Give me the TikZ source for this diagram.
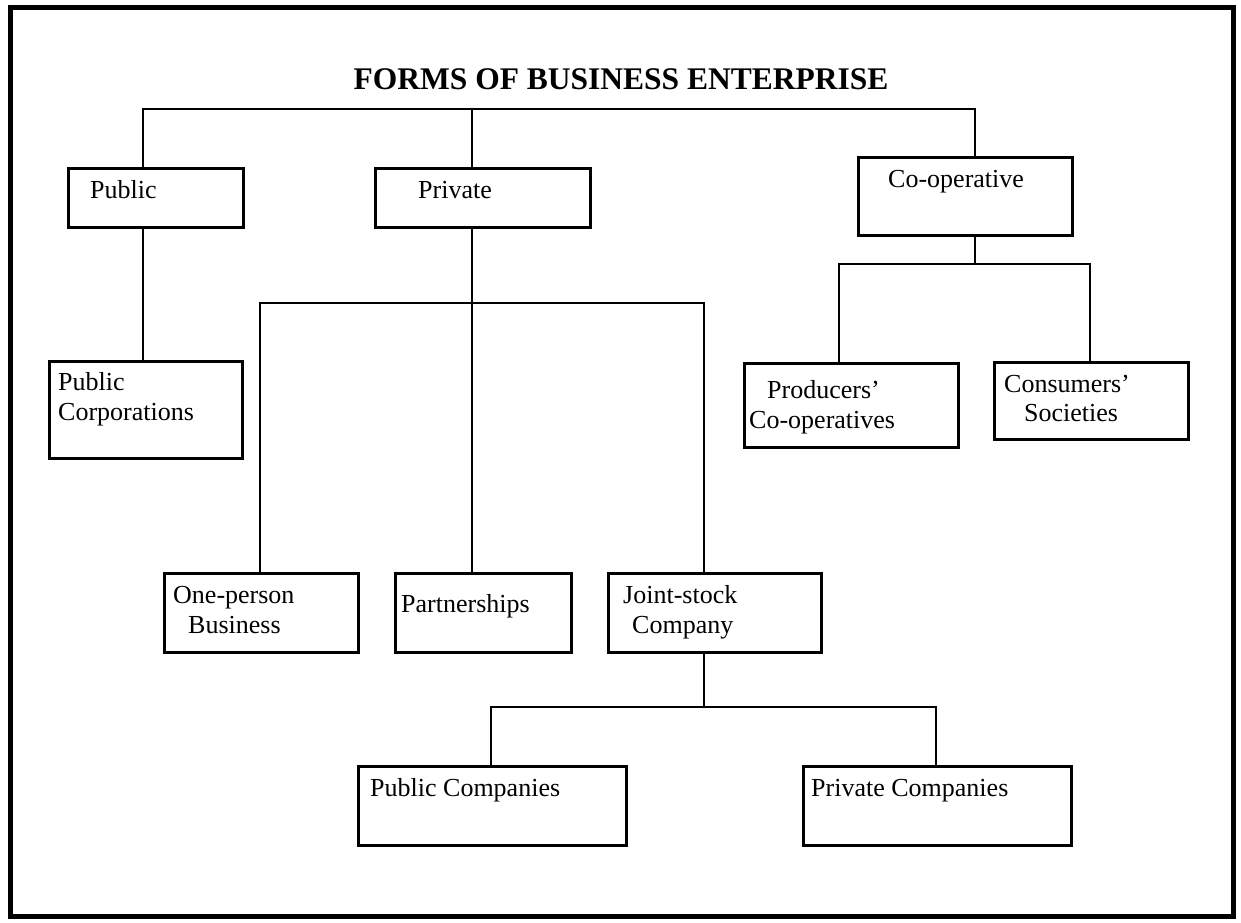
\documentclass[tikz,border=0pt]{standalone}
\usepackage{fontspec}
\setmainfont{Liberation Serif}
\usetikzlibrary{calc}
\begin{document}
\begin{tikzpicture}[x=1pt,y=-1pt,
  box/.style={draw, line width=3pt, rectangle, inner sep=0pt, anchor=north west},
  conn/.style={line width=2.4pt},
  lbl/.style={anchor=base west, inner sep=0pt, font=\fontsize{26}{30}\selectfont},
  ttl/.style={anchor=base, inner sep=0pt, font=\fontsize{31.5}{35}\selectfont\bfseries}]
\useasboundingbox (0,0) rectangle (1241,922);
\draw[line width=5pt] (10,7) rectangle (1233,916);
\node[ttl] (title) at (621,89) {FORMS OF BUSINESS ENTERPRISE};
% boxes
\node[box, minimum width=175pt, minimum height=59pt] (public) at (67,167) {};
\node[box, minimum width=215pt, minimum height=59pt] (private) at (374,167) {};
\node[box, minimum width=214pt, minimum height=78pt] (coop) at (857,156) {};
\node[box, minimum width=193pt, minimum height=97pt] (pubcorp) at (48,360) {};
\node[box, minimum width=214pt, minimum height=84pt] (prod) at (743,362) {};
\node[box, minimum width=194pt, minimum height=77pt] (cons) at (993,361) {};
\node[box, minimum width=194pt, minimum height=79pt] (onep) at (163,572) {};
\node[box, minimum width=176pt, minimum height=79pt] (partn) at (394,572) {};
\node[box, minimum width=213pt, minimum height=79pt] (joint) at (607,572) {};
\node[box, minimum width=268pt, minimum height=79pt] (pubco) at (357,765) {};
\node[box, minimum width=268pt, minimum height=79pt] (privco) at (802,765) {};
% texts
\node[lbl] (public-t) at (90,198) {Public};
\node[lbl] (private-t) at (418,198) {Private};
\node[lbl] (coop-t) at (888,187) {Co-operative};
\node[lbl] (pubcorp-t1) at (58,390) {Public};
\node[lbl] (pubcorp-t2) at (58,420) {Corporations};
\node[lbl] (prod-t1) at (767,398) {Producers’};
\node[lbl] (prod-t2) at (749,428) {Co-operatives};
\node[lbl] (cons-t1) at (1004,392) {Consumers’};
\node[lbl] (cons-t2) at (1024,421) {Societies};
\node[lbl] (onep-t1) at (173,603) {One-person};
\node[lbl] (onep-t2) at (188,633) {Business};
\node[lbl] (partn-t) at (401,612) {Partnerships};
\node[lbl] (joint-t1) at (623,603) {Joint-stock};
\node[lbl] (joint-t2) at (632,633) {Company};
\node[lbl] (pubco-t) at (370,796) {Public Companies};
\node[lbl] (privco-t) at (811,796) {Private Companies};
% junction coordinates
\coordinate (tl) at (143,109);
\coordinate (tm) at (472,109);
\coordinate (tr) at (975,109);
\coordinate (pl) at (260,303);
\coordinate (pm) at (472,303);
\coordinate (pr) at (704,303);
\coordinate (cl) at (839,264);
\coordinate (cm) at (975,264);
\coordinate (cr) at (1090,264);
\coordinate (jl) at (491,707);
\coordinate (jm) at (704,707);
\coordinate (jr) at (936,707);
% connectors
\draw[conn] (tl |- public.north) -- (tl) -- (tr) -- (tr |- coop.north);
\draw[conn] (tm) -- (tm |- private.north);
\draw[conn] (tl |- public.south) -- (tl |- pubcorp.north);
\draw[conn] (pm |- private.south) -- (pm |- partn.north);
\draw[conn] (pl |- onep.north) -- (pl) -- (pr) -- (pr |- joint.north);
\draw[conn] (cm |- coop.south) -- (cm);
\draw[conn] (cl |- prod.north) -- (cl) -- (cr) -- (cr |- cons.north);
\draw[conn] (jm |- joint.south) -- (jm);
\draw[conn] (jl |- pubco.north) -- (jl) -- (jr) -- (jr |- privco.north);
\end{tikzpicture}
\end{document}
